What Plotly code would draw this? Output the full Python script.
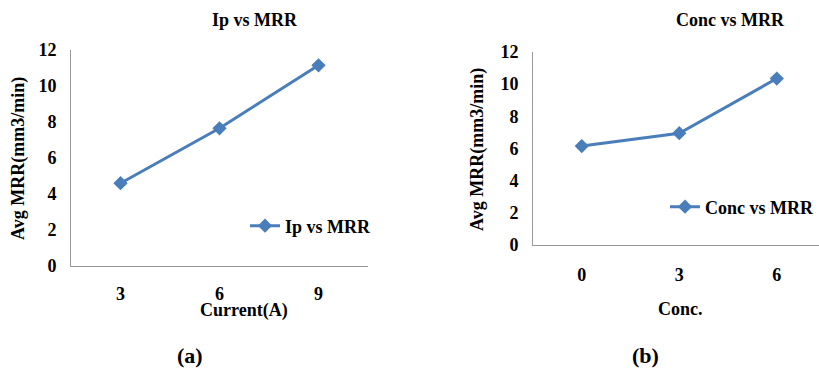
import plotly.graph_objects as go

W, H = 819, 369

# Data
current_labels = ["3", "6", "9"]
ip_mrr = [4.6, 7.65, 11.15]
conc_labels = ["0", "3", "6"]
conc_mrr = [6.15, 6.95, 10.35]
y_ticks = [0, 2, 4, 6, 8, 10, 12]

BLUE = "#4A7EBB"
AXC = "#999999"
FONT = "Liberation Serif"


def px(x):
    return x / W


def py(y):
    return 1 - y / H


fig = go.Figure()
fig.add_trace(go.Scatter(
    x=current_labels, y=ip_mrr, name="<b>Ip vs MRR</b>", mode="lines+markers",
    line=dict(color=BLUE, width=3), marker=dict(symbol="diamond", size=11, color=BLUE),
    xaxis="x", yaxis="y", legend="legend"))
fig.add_trace(go.Scatter(
    x=conc_labels, y=conc_mrr, name="<b>Conc vs MRR</b>", mode="lines+markers",
    line=dict(color=BLUE, width=3), marker=dict(symbol="diamond", size=11, color=BLUE),
    xaxis="x2", yaxis="y2", legend="legend2"))

tickfont = dict(family=FONT, size=18, color="black")
common_x = dict(type="category", showline=True, linecolor=AXC, linewidth=1,
                showgrid=False, zeroline=False, ticks="outside", automargin=False,
                tickcolor="rgba(0,0,0,0)", tickfont=tickfont, fixedrange=True)
common_y = dict(showline=True, linecolor=AXC, linewidth=1, showgrid=False,
                zeroline=False, range=[0, 12], tickvals=y_ticks,
                ticktext=[f"<b>{t}</b>" for t in y_ticks], ticks="outside", automargin=False,
                tickcolor="rgba(0,0,0,0)", ticklen=10, tickfont=tickfont, fixedrange=True)

fig.update_layout(
    width=W, height=H, margin=dict(l=0, r=0, t=0, b=0, autoexpand=False),
    paper_bgcolor="white", plot_bgcolor="white", font=dict(family=FONT),
    xaxis=dict(common_x, domain=[px(71), px(368)], range=[-0.5, 2.5], ticklen=11, anchor="y",
               tickvals=current_labels, ticktext=[f"<b>{t}</b>" for t in current_labels]),
    yaxis=dict(common_y, domain=[py(266), py(50)], anchor="x"),
    xaxis2=dict(common_x, domain=[px(533), 1.0], range=[-0.5, 2.433], ticklen=13, anchor="y2",
                tickvals=conc_labels, ticktext=[f"<b>{t}</b>" for t in conc_labels]),
    yaxis2=dict(common_y, domain=[py(245), py(52)], anchor="x2"),
    legend=dict(x=px(245), y=py(226), xanchor="left", yanchor="middle",
                font=dict(family=FONT, size=18, color="black"), bgcolor="rgba(0,0,0,0)"),
    legend2=dict(x=px(665), y=py(207), xanchor="left", yanchor="middle",
                 font=dict(family=FONT, size=18, color="black"), bgcolor="rgba(0,0,0,0)"),
    showlegend=True,
)


def ann(text, x, y, size=18, angle=0):
    fig.add_annotation(text=f"<b>{text}</b>", x=px(x), y=py(y), xref="paper", yref="paper",
                       showarrow=False, xanchor="center", yanchor="middle", textangle=angle,
                       font=dict(family=FONT, size=size, color="black"))


ann("Ip vs MRR", 255, 20)
ann("Conc vs MRR", 730, 20)
ann("Current(A)", 244, 310)
ann("Conc.", 680, 309)
ann("Avg MRR(mm3/min)", 18, 159, angle=-90)
ann("Avg MRR(mm3/min)", 477, 150, angle=-90)
ann("(a)", 190, 355, size=22)
ann("(b)", 645, 355, size=22)

fig.write_html("out.html")
